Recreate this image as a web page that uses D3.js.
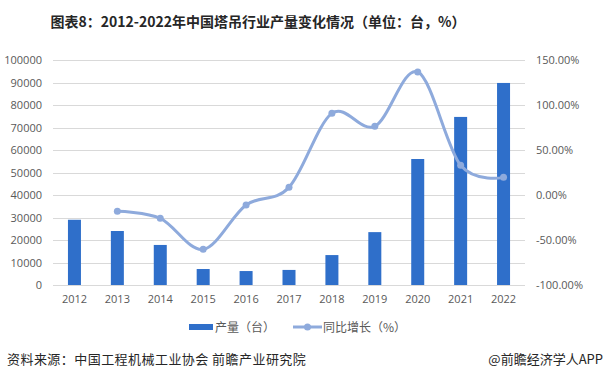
<!DOCTYPE html>
<html>
<head>
<meta charset="utf-8">
<script src="https://cdn.jsdelivr.net/npm/d3@7"></script>
<style>
  body { margin: 0; background: #fff; }
  svg { display: block; font-family: "Noto Sans CJK SC", "Noto Sans", sans-serif; }
  .axis text { fill: #595959; font-size: 11px; font-family: "Open Sans", "Noto Sans", sans-serif; }
</style>
</head>
<body>
<div id="chart"></div>
<script>
// data
var years = ['2012', '2013', '2014', '2015', '2016', '2017', '2018', '2019', '2020', '2021', '2022'];
var output = [29000, 24000, 17800, 7100, 6200, 6700, 13300, 23500, 56000, 74700, 89800];
var growth = [null, -18.1, -25.9, -60.4, -11.1, 8.5, 90.7, 76.3, 136.7, 33.0, 19.6];
var leftTicks = [0, 10000, 20000, 30000, 40000, 50000, 60000, 70000, 80000, 90000, 100000];
var rightTicks = [-100, -50, 0, 50, 100, 150];

var frame = { width: 609, height: 384 },
  plot = { left: 53, right: 525, top: 60, bottom: 285 };

var svg = d3.select('#chart').append('svg')
  .attr('width', frame.width)
  .attr('height', frame.height);

var x = d3.scaleBand()
  .domain(years)
  .range([plot.left, plot.right]);

var y = d3.scaleLinear()
  .domain([0, 100000])
  .range([plot.bottom, plot.top]);

var yPct = d3.scaleLinear()
  .domain([-100, 150])
  .range([plot.bottom, plot.top]);

//title
svg.append('text')
  .attr('x', 258)
  .attr('y', 27)
  .attr('text-anchor', 'middle')
  .style('font-size', '14px')
  .style('font-weight', 'bold')
  .style('fill', '#262626')
  .text('图表8：2012-2022年中国塔吊行业产量变化情况（单位：台，%）');

//gridlines
svg.append('g')
  .selectAll('line')
  .data(leftTicks)
  .enter().append('line')
  .attr('x1', plot.left)
  .attr('x2', plot.right)
  .attr('y1', function (d) { return Math.round(y(d)) + 0.5; })
  .attr('y2', function (d) { return Math.round(y(d)) + 0.5; })
  .attr('stroke', '#d9d9d9')
  .attr('stroke-width', 1);

//left axis
svg.append('g')
  .attr('class', 'axis')
  .attr('transform', 'translate(' + plot.left + ',0)')
  .call(d3.axisLeft(y).tickValues(leftTicks).tickSize(0).tickPadding(11).tickFormat(d3.format('d')))
  .call(function (g) { g.select('.domain').remove(); });

//right axis
svg.append('g')
  .attr('class', 'axis')
  .attr('transform', 'translate(' + plot.right + ',0)')
  .call(d3.axisRight(yPct).tickValues(rightTicks).tickSize(0).tickPadding(11)
    .tickFormat(function (d) { return d.toFixed(2) + '%'; }))
  .call(function (g) { g.select('.domain').remove(); });

//bottom axis
svg.append('g')
  .attr('class', 'axis')
  .attr('transform', 'translate(0,' + plot.bottom + ')')
  .call(d3.axisBottom(x).tickSize(0).tickPadding(10))
  .call(function (g) { g.select('.domain').remove(); });

//bars
svg.append('g')
  .selectAll('rect')
  .data(output)
  .enter().append('rect')
  .attr('x', function (d, i) { return x(years[i]) + x.bandwidth() / 2 - 6.5; })
  .attr('width', 13)
  .attr('y', function (d) { return y(d); })
  .attr('height', function (d) { return y(0) - y(d); })
  .attr('fill', '#2f6fca');

//growth line (smoothed like the office chart)
var pts = growth.map(function (d, i) { return { year: years[i], v: d }; })
  .filter(function (d) { return d.v !== null; });

var growthLine = d3.line()
  .x(function (d) { return x(d.year) + x.bandwidth() / 2; })
  .y(function (d) { return yPct(d.v); })
  .curve(d3.curveCardinal.tension(0));

svg.append('path')
  .datum(pts)
  .attr('d', growthLine)
  .attr('fill', 'none')
  .attr('stroke', '#8eaadc')
  .attr('stroke-width', 3)
  .attr('stroke-linecap', 'round');

svg.append('g')
  .selectAll('circle')
  .data(pts)
  .enter().append('circle')
  .attr('cx', function (d) { return x(d.year) + x.bandwidth() / 2; })
  .attr('cy', function (d) { return yPct(d.v); })
  .attr('r', 3.5)
  .attr('fill', '#8eaadc');

//legend
var legend = svg.append('g').attr('class', 'legend');
legend.append('rect')
  .attr('x', 189).attr('y', 324)
  .attr('width', 24).attr('height', 6)
  .attr('fill', '#2f6fca');
legend.append('text')
  .attr('x', 215).attr('y', 332)
  .style('font-size', '12px').style('fill', '#595959')
  .text('产量（台）');
legend.append('line')
  .attr('x1', 293).attr('x2', 322)
  .attr('y1', 327).attr('y2', 327)
  .attr('stroke', '#8eaadc').attr('stroke-width', 3);
legend.append('circle')
  .attr('cx', 307.5).attr('cy', 327).attr('r', 3.5)
  .attr('fill', '#8eaadc');
legend.append('text')
  .attr('x', 323).attr('y', 332)
  .style('font-size', '12px').style('fill', '#595959')
  .text('同比增长（%）');

//footer
svg.append('text')
  .attr('x', 7).attr('y', 364)
  .style('font-size', '13px').style('fill', '#262626')
  .style('letter-spacing', '0.45px')
  .text('资料来源：中国工程机械工业协会 前瞻产业研究院');
svg.append('text')
  .attr('x', 603).attr('y', 364)
  .attr('text-anchor', 'end')
  .style('font-size', '13px').style('fill', '#262626')
  .text('@前瞻经济学人APP');
</script>
</body>
</html>
